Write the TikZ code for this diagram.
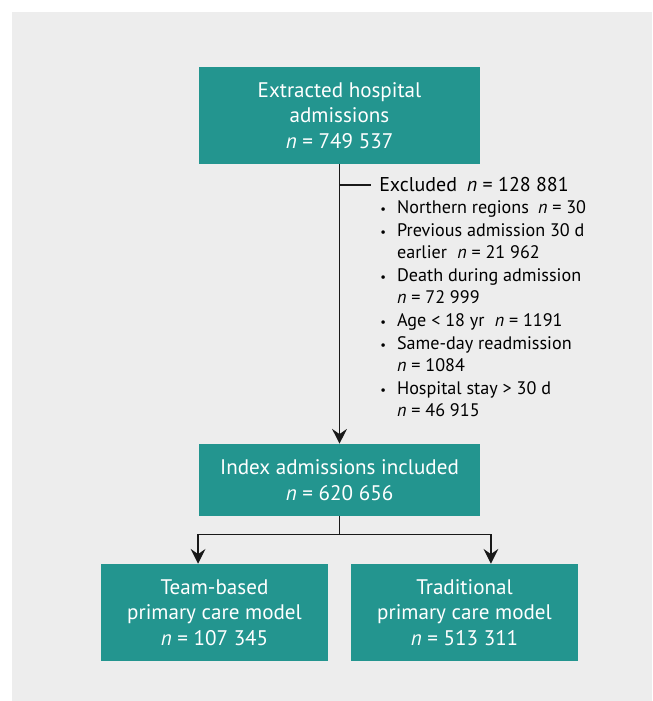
\documentclass[tikz,border=0pt]{standalone}
\usepackage{fontspec}
\setmainfont{PT Sans}
\usetikzlibrary{arrows.meta,positioning}
\definecolor{tealbox}{HTML}{23958F}
\definecolor{panelgrey}{HTML}{EDEDED}
\begin{document}
\begin{tikzpicture}[
  flowbox/.style={rectangle, minimum width=7.025cm, minimum height=2.425cm, inner sep=0pt, align=center, fill=tealbox, text=white, font=\fontsize{15}{18.1}\selectfont},
  armbox/.style={flowbox, minimum width=5.675cm},
  exclhdr/.style={inner sep=0pt, anchor=west, font=\fontsize{14.2}{16}\selectfont},
  excltext/.style={inner sep=0pt, anchor=north west, font=\fontsize{12.9}{16.06}\selectfont},
  conn/.style={line width=0.9pt, black!90},
  arr/.style={conn, -{Stealth[length=0.37cm, width=0.37cm, inset=0.13cm]}}
]

\useasboundingbox (0,0) rectangle (16.3,-17.525);
\fill[panelgrey] (0.3,-0.3) rectangle (16.3,-17.525);

\node (extracted) [flowbox] at (8.4875, -2.8875) {Extracted hospital\\admissions\\\textit{n} = 749 537};
\node (index) [flowbox, minimum height=1.8cm] at (8.4875, -12.0) {Index admissions included\\\textit{n} = 620 656};
\node (team) [armbox] at (5.3625, -15.3125) {Team-based\\primary care model\\\textit{n} = 107 345};
\node (trad) [armbox] at (11.6125, -15.3125) {Traditional\\primary care model\\\textit{n} = 513 311};

\node (exclhead) [exclhdr] at (9.475, -4.625) {Excluded\hspace{0.5em}\textit{n} = 128 881};
\node (excllist) [excltext] at (9.5, -4.94) {%
  \begin{tabular}{@{}p{0.42cm}@{}l@{}}
  {\small\textbullet} & Northern regions\hspace{0.5em}\textit{n} = 30\\
  {\small\textbullet} & Previous admission 30 d\\
   & earlier\hspace{0.3em} \textit{n} = 21 962\\
  {\small\textbullet} & Death during admission\\
   & \textit{n} = 72 999\\
  {\small\textbullet} & Age < 18 yr\hspace{0.3em} \textit{n} = 1191\\
  {\small\textbullet} & Same-day readmission\\
   & \textit{n} = 1084\\
  {\small\textbullet} & Hospital stay > 30 d\\
   & \textit{n} = 46 915
  \end{tabular}};

\draw [arr] (extracted.south) -- (index.north);
\draw [conn] (exclhead.west -| extracted.south) -- ([xshift=-0.2cm]exclhead.west);
\draw [conn] (index.south) -- ++(0,-0.45) coordinate (split);
\draw [arr] (split) -| ([xshift=-0.41cm]team.north);
\draw [arr] (split) -| ([xshift=0.66cm]trad.north);

\end{tikzpicture}
\end{document}
